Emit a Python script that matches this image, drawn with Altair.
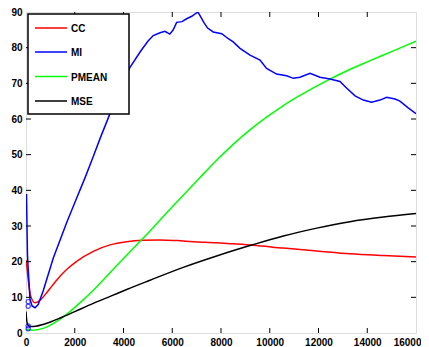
import altair as alt
import pandas as pd

# ---- data ----
x_ticks = [0, 2000, 4000, 6000, 8000, 10000, 12000, 14000, 16000]
y_ticks = [0, 10, 20, 30, 40, 50, 60, 70, 80, 90]

series_names = ["CC", "MI", "PMEAN", "MSE"]
series_colors = ["#ff0000", "#0000ff", "#00ff00", "#000000"]

cc_x = [0, 30, 95, 200, 370, 550, 800, 1100, 1395, 1700, 2080, 2760, 3446, 4130, 4800,
        5500, 6200, 6860, 7820, 8500, 9330, 10560, 11930, 13290, 14660, 16000]
cc_y = [20.5, 19.0, 14.7, 10.2, 8.5, 9.0, 10.9, 13.5, 15.9, 18.0, 20.1, 22.9, 24.7, 25.6, 26.0,
        26.1, 25.9, 25.6, 25.3, 25.0, 24.6, 23.8, 23.0, 22.2, 21.7, 21.3]

mi_x = [20, 40, 60, 95, 164, 250, 370, 500, 710, 1120, 1670, 2000, 2420, 2760, 3036, 3446,
        3800, 4267, 4700, 5000, 5220, 5500, 5700, 5900, 6040, 6180, 6400, 6590, 6800, 7050,
        7140, 7300, 7450, 7680, 8030, 8300, 8500, 8780, 9190, 9600, 9870, 10280, 10690,
        10970, 11240, 11650, 12060, 12470, 12880, 13150, 13500, 13840, 14180, 14520, 14800,
        15140, 15340, 15680, 16000]
mi_y = [39.0, 30.0, 22.0, 17.4, 9.5, 7.6, 7.1, 8.0, 11.9, 21.0, 31.0, 36.5, 43.5, 49.5, 54.5,
        61.5, 67.5, 74.5, 79.0, 81.8, 83.4, 84.2, 84.6, 83.8, 85.0, 87.1, 87.3, 88.1, 88.8,
        90.0, 89.0, 87.0, 85.5, 84.4, 83.9, 82.5, 81.6, 79.8, 77.9, 76.5, 74.2, 72.6, 72.1,
        71.4, 71.7, 72.8, 71.7, 71.2, 70.5, 68.7, 66.5, 65.3, 64.7, 65.3, 66.1, 65.6, 65.0,
        63.1, 61.5]

pm_x = [0, 300, 700, 1000, 1400, 1800, 2300, 2760, 3446, 4130, 4750, 5090, 5800, 6520,
        7140, 7800, 8500, 9200, 9870, 10500, 11240, 12000, 12470, 13200, 14000, 15000, 16000]
pm_y = [1.0, 0.8, 1.3, 2.2, 3.9, 6.0, 9.0, 12.0, 16.9, 21.8, 26.2, 28.6, 33.9, 39.1,
        43.6, 48.3, 52.9, 57.0, 60.5, 63.5, 66.6, 69.5, 71.2, 73.6, 76.0, 78.9, 81.8]

mse_x = [0, 30, 80, 200, 400, 700, 1000, 1400, 2000, 2760, 3500, 4130, 5090, 6450, 7820,
         9330, 10560, 11930, 13290, 14660, 16000]
mse_y = [6.0, 3.5, 2.2, 1.8, 1.9, 2.4, 3.1, 4.2, 6.0, 8.3, 10.4, 12.2, 14.8, 18.4, 21.6,
         24.8, 27.2, 29.4, 31.2, 32.5, 33.5]

marker_x = [90, 90, 90, 90]
marker_y = [8.8, 7.5, 2.0, 1.2]

# ---- layout ----
W, H = 390, 321
FONT = "Liberation Sans"
FS = 10

xs = alt.Scale(domain=[0, 16000], nice=False, zero=False)
ys = alt.Scale(domain=[0, 90], nice=False, zero=False)
xaxis = alt.Axis(values=x_ticks, format="d", title=None, grid=False, ticks=False,
                 domain=False, labelFont=FONT, labelFontWeight="bold", labelFontSize=FS,
                 labelColor="black", labelPadding=4, labelFlush=False,
                 labelAlign=alt.ExprRef(expr="datum.value >= 16000 ? 'right' : 'center'"),
                 labelOffset=alt.ExprRef(expr="datum.value >= 16000 ? 5 : 0"))
yaxis = alt.Axis(values=y_ticks, format="d", title=None, grid=False, ticks=False,
                 domain=False, labelFont=FONT, labelFontWeight="bold", labelFontSize=FS,
                 labelColor="black", labelPadding=4)


def X(f):
    return alt.X(f, scale=xs, axis=xaxis)


def Y(f):
    return alt.Y(f, scale=ys, axis=yaxis)


def line(xv, yv, color, interp):
    df = pd.DataFrame({"x": xv, "y": yv})
    return alt.Chart(df).mark_line(color=color, strokeWidth=1.5, interpolate=interp,
                                   clip=True).encode(x=X("x:Q"), y=Y("y:Q"))


layers = [
    line(cc_x, cc_y, series_colors[0], "monotone"),
    line(pm_x, pm_y, series_colors[2], "monotone"),
    line(mse_x, mse_y, series_colors[3], "monotone"),
    line(mi_x, mi_y, series_colors[1], "linear"),
]

mk = pd.DataFrame({"x": marker_x, "y": marker_y})
layers.append(alt.Chart(mk).mark_point(shape="circle", filled=False, color="#0000ff",
                                       size=18, strokeWidth=1.2).encode(x=X("x:Q"), y=Y("y:Q")))

# inward ticks on all four sides
xt = pd.DataFrame({"v": x_ticks[1:-1]})
yt = pd.DataFrame({"v": y_ticks[1:-1]})
layers += [
    alt.Chart(xt).mark_rule(color="black", strokeWidth=1).encode(
        x=X("v:Q"), y=alt.value(H), y2=alt.value(H - 5)),
    alt.Chart(xt).mark_rule(color="black", strokeWidth=1).encode(
        x=X("v:Q"), y=alt.value(0), y2=alt.value(5)),
    alt.Chart(yt).mark_rule(color="black", strokeWidth=1).encode(
        y=Y("v:Q"), x=alt.value(0), x2=alt.value(5)),
    alt.Chart(yt).mark_rule(color="black", strokeWidth=1).encode(
        y=Y("v:Q"), x=alt.value(W - 5), x2=alt.value(W)),
]

# legend box
one = pd.DataFrame({"a": [0]})
layers.append(alt.Chart(one).mark_rect(fill="white", stroke="black", strokeWidth=1.5).encode(
    x=alt.value(2), x2=alt.value(103), y=alt.value(2), y2=alt.value(102)))
leg_y = [16, 40, 64.5, 89]
for name, col, ly in zip(series_names, series_colors, leg_y):
    layers.append(alt.Chart(one).mark_rule(color=col, strokeWidth=1.5).encode(
        x=alt.value(9), x2=alt.value(41), y=alt.value(ly)))
    layers.append(alt.Chart(one).mark_text(align="left", baseline="middle", font=FONT,
                                           fontWeight="bold", fontSize=FS, color="black").encode(
        x=alt.value(45), y=alt.value(ly + 1), text=alt.value(name)))

chart = alt.layer(*layers).properties(
    width=W, height=H,
    autosize=alt.AutoSizeParams(type="none"),
    padding={"left": 18, "top": 4, "right": 5, "bottom": 14},
).configure_view(stroke="black", strokeWidth=1.5).configure(background="white")

chart.save("out.html", embed_options={"renderer": "svg", "actions": False})
